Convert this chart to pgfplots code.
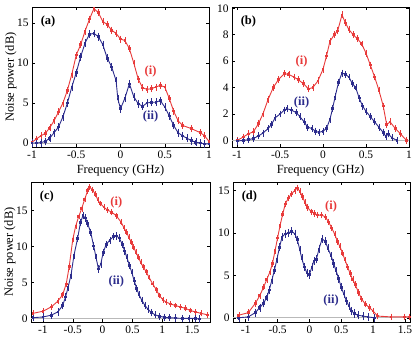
\documentclass[border=0pt]{standalone}
\usepackage{fontspec}
\setmainfont{Liberation Serif}
\usepackage{pgfplots}
\pgfplotsset{compat=1.18}
\definecolor{cred}{RGB}{232,58,58}
\definecolor{cblue}{RGB}{44,44,140}
\pgfplotsset{
  panel/.style={scale only axis, width=177bp, height=140bp, anchor=north west,
    tick align=inside, major tick length=3bp, tick style={black, line width=0.5bp},
    axis line style={line width=0.6bp},
    ticklabel style={font=\fontsize{11.5}{13}\selectfont},
    label style={font=\fontsize{12.5}{14}\selectfont},
    xlabel style={at={(rel axis cs:0.5,0)}, anchor=center, yshift=-24bp},
    ylabel style={at={(rel axis cs:0,0.5)}, anchor=center, yshift=21bp},
    /pgf/number format/assume math mode=true},
  zero/.style={gray!55, line width=0.6bp, forget plot},
  ri/.style={cred, line width=0.9bp, mark=square*, mark size=0.8bp,
    error bars/.cd, y dir=both, y fixed=#1, error bar style={line width=0.5bp}, error mark options={mark size=1.5bp}},
  rii/.style={cblue, line width=0.9bp, mark=square*, mark size=0.8bp,
    error bars/.cd, y dir=both, y fixed=#1, error bar style={line width=0.5bp}, error mark options={mark size=1.5bp}},
}
\tikzset{lbl/.style={font=\bfseries\fontsize{12.5}{14}\selectfont}}
\begin{document}
\begin{tikzpicture}
\useasboundingbox (0,0) rectangle (415bp,-338bp);

% (a)
\begin{axis}[panel, at={(32bp,-7bp)}, xmin=-1, xmax=1, ymin=-0.5, ymax=17,
  xtick={-1,-0.5,0,0.5,1}, ytick={0,5,10,15},
  xlabel={Frequency (GHz)}, ylabel={Noise power (dB)}]
\addplot[zero] coordinates {(-2,0) (2,0)};
\addplot[ri=0.25] coordinates {(-1.0,0.1)(-0.95,0.5)(-0.9,0.9)(-0.85,1.2)(-0.8,1.9)(-0.75,2.8)(-0.7,3.9)(-0.65,5.0)(-0.6,6.6)(-0.55,8.6)(-0.5,11.0)(-0.45,12.3)(-0.4,14.0)(-0.35,15.5)(-0.3,16.8)(-0.25,16.3)(-0.2,15.2)(-0.15,14.8)(-0.1,14.1)(-0.05,13.7)(0.0,13.0)(0.05,12.8)(0.1,11.8)(0.15,10.0)(0.2,8.0)(0.25,6.9)(0.3,6.7)(0.35,6.8)(0.4,7.0)(0.45,7.2)(0.5,7.0)(0.55,5.6)(0.6,4.0)(0.65,2.8)(0.7,2.2)(0.8,1.8)(0.9,1.3)(0.95,0.9)(1.0,0.2)};
\addplot[rii=0.3] coordinates {(-1.0,0.0)(-0.95,0.0)(-0.9,0.05)(-0.85,0.2)(-0.8,0.6)(-0.75,1.3)(-0.7,2.0)(-0.65,3.3)(-0.6,5.0)(-0.55,7.0)(-0.5,8.8)(-0.45,10.8)(-0.4,12.5)(-0.35,13.6)(-0.3,13.7)(-0.25,13.3)(-0.2,12.3)(-0.15,10.6)(-0.1,9.5)(-0.05,7.8)(-0.03,5.5)(0.0,4.3)(0.05,5.6)(0.1,7.4)(0.15,5.8)(0.2,4.9)(0.25,4.6)(0.3,5.0)(0.35,5.1)(0.4,5.1)(0.45,5.3)(0.5,4.5)(0.55,3.4)(0.6,2.2)(0.65,1.3)(0.7,0.9)(0.75,0.6)(0.8,0.3)(0.85,0.1)(0.9,0.0)(0.95,-0.1)(1.0,-0.1)};
\node[lbl, anchor=north west] at (rel axis cs:0.03,0.96) {(a)};
\node[lbl, cred] at (axis cs:0.34,8.9) {(i)};
\node[lbl, cblue] at (axis cs:0.34,3.3) {(ii)};
\end{axis}

% (b)
\begin{axis}[panel, at={(232bp,-7bp)}, xmin=-1.06, xmax=1, ymin=-0.5, ymax=10.1,
  xtick={-1,-0.5,0,0.5,1}, ytick={0,2,4,6,8,10},
  xlabel={Frequency (GHz)}]
\addplot[zero] coordinates {(-2,0) (2,0)};
\addplot[ri=0.15] coordinates {(-1.0,0.0)(-0.93,0.25)(-0.87,0.5)(-0.81,0.65)(-0.75,1.3)(-0.70,2.0)(-0.64,3.1)(-0.58,4.0)(-0.52,4.6)(-0.45,5.05)(-0.40,5.0)(-0.34,4.8)(-0.29,4.6)(-0.23,4.3)(-0.17,3.9)(-0.12,4.0)(-0.06,4.5)(0.0,5.4)(0.04,6.4)(0.08,7.5)(0.13,8.0)(0.17,8.3)(0.22,9.5)(0.26,8.9)(0.30,8.4)(0.35,8.0)(0.40,7.7)(0.45,7.3)(0.50,6.6)(0.55,5.7)(0.60,4.8)(0.65,3.8)(0.70,2.6)(0.74,1.2)(0.78,1.4)(0.84,0.9)(0.90,0.5)(0.97,0.0)};
\addplot[rii=0.15] coordinates {(-1.0,-0.05)(-0.93,0.0)(-0.87,0.05)(-0.81,0.15)(-0.75,0.35)(-0.70,0.55)(-0.64,0.9)(-0.60,1.2)(-0.56,1.7)(-0.50,2.0)(-0.45,2.3)(-0.42,2.4)(-0.37,2.3)(-0.31,2.1)(-0.27,1.8)(-0.22,1.4)(-0.18,1.0)(-0.13,0.9)(-0.09,0.7)(-0.05,0.6)(0.0,0.7)(0.04,0.9)(0.08,1.6)(0.11,2.4)(0.14,3.3)(0.18,4.4)(0.22,5.1)(0.26,5.0)(0.30,4.8)(0.34,4.3)(0.38,4.0)(0.42,3.2)(0.46,2.6)(0.50,2.2)(0.55,1.8)(0.60,1.4)(0.65,1.0)(0.70,0.6)(0.73,0.3)(0.76,0.5)(0.80,0.2)(0.86,0.0)};
\node[lbl, anchor=north west] at (rel axis cs:0.03,0.96) {(b)};
\node[lbl, cred] at (axis cs:-0.25,6.0) {(i)};
\node[lbl, cblue] at (axis cs:-0.25,2.9) {(ii)};
\end{axis}

% (c)
\begin{axis}[panel, width=179bp, at={(31bp,-182bp)}, xmin=-1.2, xmax=1.8, ymin=-0.5, ymax=19,
  xtick={-1,-0.5,0,0.5,1,1.5}, ytick={0,5,10,15},
  ylabel={Noise power (dB)}]
\addplot[zero] coordinates {(-2,0) (2,0)};
\addplot[ri=0.2] coordinates {(-1.17,0.7)(-1.0,1.0)(-0.86,1.6)(-0.75,2.4)(-0.67,3.3)(-0.61,4.8)(-0.56,7.2)(-0.50,11.0)(-0.45,12.9)(-0.40,14.2)(-0.35,15.3)(-0.30,16.6)(-0.25,17.8)(-0.22,18.3)(-0.17,17.9)(-0.12,17.3)(-0.08,16.5)(-0.04,16.0)(0.02,15.5)(0.08,15.1)(0.15,14.8)(0.23,14.3)(0.31,13.4)(0.36,12.6)(0.40,12.0)(0.44,11.3)(0.48,10.6)(0.52,9.9)(0.56,9.2)(0.60,8.5)(0.64,7.8)(0.68,7.2)(0.73,6.5)(0.78,5.7)(0.84,4.8)(0.90,4.0)(0.95,3.2)(1.01,2.6)(1.06,2.3)(1.14,2.0)(1.22,1.8)(1.30,1.6)(1.39,1.4)(1.47,1.1)(1.56,0.9)(1.65,0.7)(1.76,0.5)};
\addplot[rii=0.3] coordinates {(-1.17,0.1)(-1.0,0.2)(-0.86,0.45)(-0.75,0.9)(-0.67,1.8)(-0.62,3.0)(-0.58,4.3)(-0.53,6.0)(-0.48,8.8)(-0.42,11.1)(-0.37,13.4)(-0.33,14.3)(-0.29,14.0)(-0.25,13.2)(-0.20,12.0)(-0.15,10.1)(-0.11,8.5)(-0.07,6.9)(-0.03,7.6)(0.01,9.2)(0.06,10.3)(0.12,10.9)(0.18,11.4)(0.23,11.5)(0.28,11.2)(0.33,10.3)(0.37,9.4)(0.41,8.4)(0.45,7.4)(0.49,6.4)(0.53,5.2)(0.57,4.2)(0.61,3.3)(0.66,2.5)(0.71,1.8)(0.76,1.3)(0.82,0.8)(0.88,0.5)(0.95,0.3)(1.04,0.15)(1.12,0.1)(1.22,0.05)(1.34,0.0)(1.45,0.0)(1.56,0.0)(1.62,-0.1)};
\node[lbl, anchor=north west] at (rel axis cs:0.03,0.96) {(c)};
\node[lbl, cred] at (axis cs:0.23,16.2) {(i)};
\node[lbl, cblue] at (axis cs:0.23,5.1) {(ii)};
\end{axis}

% (d)
\begin{axis}[panel, at={(233bp,-182bp)}, xmin=-1.2, xmax=1.58, ymin=-0.5, ymax=16,
  xtick={-1,-0.5,0,0.5,1,1.5}, ytick={0,5,10,15}]
\addplot[zero] coordinates {(-2,0) (2,0)};
\addplot[ri=0.2] coordinates {(-1.11,0.3)(-0.96,0.6)(-0.85,1.7)(-0.78,2.6)(-0.72,3.6)(-0.67,4.5)(-0.62,5.4)(-0.58,6.4)(-0.54,7.9)(-0.50,9.4)(-0.46,10.9)(-0.42,12.2)(-0.38,13.4)(-0.33,14.1)(-0.28,14.6)(-0.23,15.0)(-0.19,15.3)(-0.15,14.9)(-0.11,14.3)(-0.07,13.6)(-0.03,13.0)(0.03,12.5)(0.08,12.3)(0.13,12.1)(0.19,12.1)(0.25,11.9)(0.30,11.3)(0.35,10.6)(0.40,9.8)(0.44,9.0)(0.48,8.4)(0.52,7.6)(0.56,6.8)(0.60,6.0)(0.64,5.2)(0.68,4.5)(0.72,3.9)(0.77,3.0)(0.82,2.2)(0.88,1.6)(0.94,1.2)(1.0,0.8)(1.07,0.2)(1.28,0.1)(1.49,0.1)(1.57,0.1)};
\addplot[rii=0.3] coordinates {(-1.11,0.0)(-0.96,0.1)(-0.85,0.6)(-0.78,1.2)(-0.72,1.7)(-0.67,2.4)(-0.63,3.3)(-0.59,4.4)(-0.55,5.6)(-0.51,6.9)(-0.47,8.3)(-0.43,9.5)(-0.38,9.9)(-0.33,10.0)(-0.28,10.2)(-0.23,9.9)(-0.19,9.2)(-0.15,8.0)(-0.12,7.0)(-0.08,6.0)(-0.04,5.3)(0.0,5.1)(0.04,6.0)(0.07,6.7)(0.11,6.9)(0.15,8.1)(0.20,9.3)(0.25,9.0)(0.29,8.2)(0.34,7.3)(0.38,6.4)(0.42,5.5)(0.46,4.6)(0.50,3.6)(0.54,2.8)(0.58,2.0)(0.62,1.4)(0.66,0.8)(0.71,0.5)(0.76,0.3)(0.84,0.2)(0.92,0.1)(1.02,0.0)};
\node[lbl, anchor=north west] at (rel axis cs:0.03,0.96) {(d)};
\node[lbl, cred] at (axis cs:0.34,13.1) {(i)};
\node[lbl, cblue] at (axis cs:0.34,2.0) {(ii)};
\end{axis}
\end{tikzpicture}
\end{document}
